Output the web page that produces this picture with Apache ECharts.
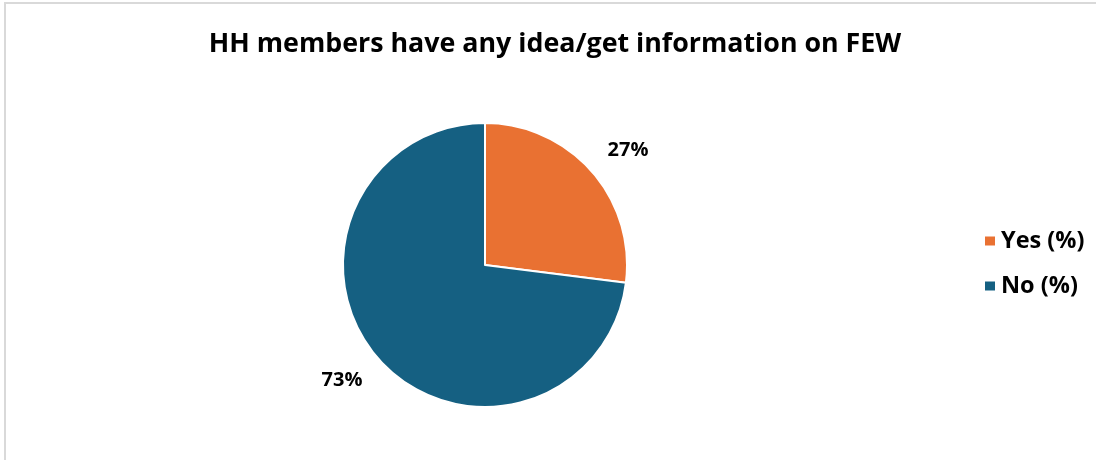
<!DOCTYPE html>
<html>
<head>
<meta charset="utf-8">
<script src="https://cdn.jsdelivr.net/npm/echarts@6/dist/echarts.min.js"></script>
<style>
  html, body { margin: 0; padding: 0; background: #fff; }
  #chart { width: 1096px; height: 460px; }
</style>
</head>
<body>
<div id="chart"></div>
<script>
// Share of households whose members have any idea / get information on FEW
const categories = ['Yes (%)', 'No (%)'];
const shares = [27, 73];
const sliceColors = ['#E97132', '#156082'];

const FONT = '"Open Sans", "Noto Sans", sans-serif';

const chart = echarts.init(document.getElementById('chart'), null, { renderer: 'canvas' });

chart.setOption({
  backgroundColor: '#ffffff',
  animation: false,
  graphic: [{
    type: 'rect',
    shape: { x: 5, y: 3, width: 1200, height: 600 },
    style: { fill: 'none', stroke: '#d9d9d9', lineWidth: 2 },
    silent: true
  }],
  title: {
    text: 'HH members have any idea/get information on FEW',
    left: 550,
    textAlign: 'center',
    top: 26,
    textStyle: { fontFamily: FONT, fontWeight: 'bold', fontSize: 26.8, color: '#000' }
  },
  legend: {
    orient: 'vertical',
    left: 978,
    top: 224,
    itemWidth: 12,
    itemHeight: 11,
    itemGap: 21,
    icon: 'rect',
    textStyle: {
      fontFamily: FONT, fontWeight: 'bold', fontSize: 23.5, color: '#000'
    },
    data: categories
  },
  series: [{
    type: 'pie',
    center: [485, 265],
    radius: [0, 142],
    startAngle: 90,
    clockwise: true,
    itemStyle: { borderColor: '#fff', borderWidth: 2 },
    label: {
      show: true,
      position: 'outside',
      formatter: '{c}%',
      fontFamily: FONT,
      fontWeight: 'bold',
      fontSize: 20,
      color: '#000',
      distanceToLabelLine: -8
    },
    labelLine: { show: false, length: 32, length2: 0 },
    data: categories.map((name, i) => ({
      name,
      value: shares[i],
      itemStyle: { color: sliceColors[i] }
    }))
  }]
});
</script>
</body>
</html>
